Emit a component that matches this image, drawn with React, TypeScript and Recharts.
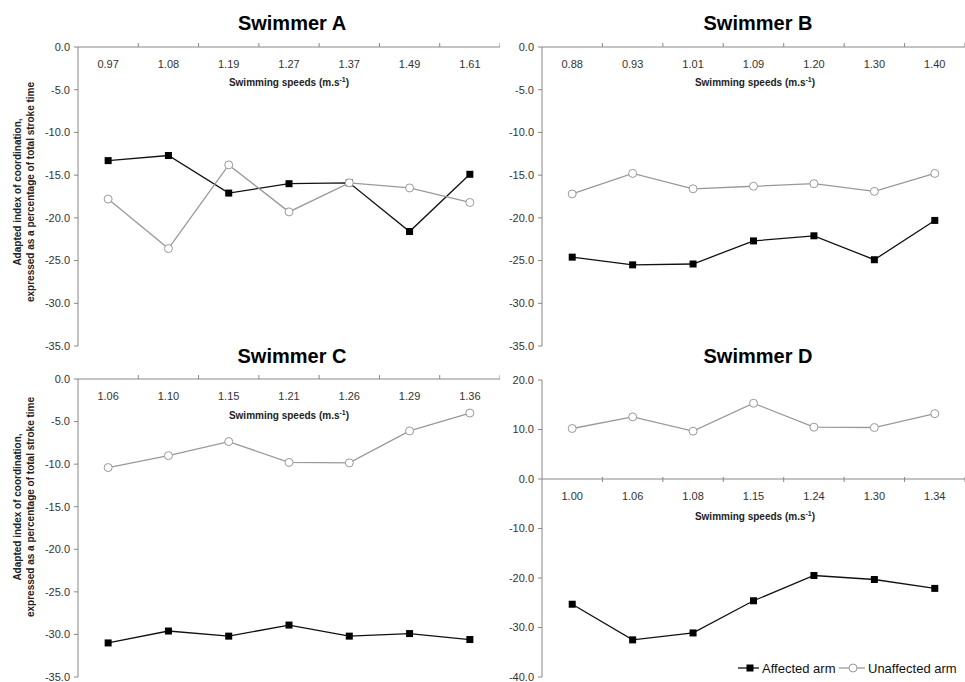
import React from 'react'
import { LineChart, Line, XAxis, YAxis, ReferenceLine } from 'recharts'

const FONT = '"Liberation Sans", Arial, sans-serif'

// swimming speeds (m.s-1) per swimmer
const speedsA = ['0.97', '1.08', '1.19', '1.27', '1.37', '1.49', '1.61']
const speedsB = ['0.88', '0.93', '1.01', '1.09', '1.20', '1.30', '1.40']
const speedsC = ['1.06', '1.10', '1.15', '1.21', '1.26', '1.29', '1.36']
const speedsD = ['1.00', '1.06', '1.08', '1.15', '1.24', '1.30', '1.34']

// adapted index of coordination (%)
const affectedA = [-13.3, -12.7, -17.1, -16.0, -15.9, -21.6, -14.9]
const unaffectedA = [-17.8, -23.6, -13.8, -19.3, -15.9, -16.5, -18.2]
const affectedB = [-24.6, -25.5, -25.4, -22.7, -22.1, -24.9, -20.3]
const unaffectedB = [-17.2, -14.8, -16.6, -16.3, -16.0, -16.9, -14.8]
const affectedC = [-31.0, -29.6, -30.2, -28.9, -30.2, -29.9, -30.6]
const unaffectedC = [-10.4, -9.0, -7.35, -9.8, -9.85, -6.1, -4.0]
const affectedD = [-25.3, -32.5, -31.1, -24.6, -19.5, -20.3, -22.1]
const unaffectedD = [10.2, 12.55, 9.66, 15.3, 10.47, 10.4, 13.2]

const ticksNeg = [-35, -30, -25, -20, -15, -10, -5, 0]
const ticksD = [-40, -30, -20, -10, 0, 10, 20]

const X_H = 20

type PanelProps = {
  speeds: string[]
  affected: number[]
  unaffected: number[]
  left: number
  top: number
  width: number
  height: number
  margin: { top: number; right: number; bottom: number; left: number }
  domain: [number, number]
  ticks: number[]
  zeroAxis?: boolean
}

function Panel({ speeds, affected, unaffected, left, top, width, height, margin, domain, ticks, zeroAxis }: PanelProps) {
  const rows = speeds.map((speed, i) => ({ speed, affected: affected[i], unaffected: unaffected[i] }))
  const plotW = width - margin.left - margin.right - 48
  const plotH = height - margin.top - margin.bottom - X_H
  const bw = plotW / speeds.length
  // distance from top of the plot down to the zero line (only used for swimmer D)
  const shift = zeroAxis ? (plotH * domain[1]) / (domain[1] - domain[0]) : 0

  const tick = (p: any) => (
    <g key={`t${p.index}`}>
      <text x={p.x} y={p.y + shift + 21} textAnchor="middle" fontSize={11} fill="#333" fontFamily={FONT}>
        {p.payload.value}
      </text>
      <line
        x1={p.x + bw / 2}
        x2={p.x + bw / 2}
        y1={zeroAxis ? p.y + shift - 2 : p.y}
        y2={zeroAxis ? p.y + shift + 3 : p.y - 4}
        stroke="#888"
      />
    </g>
  )

  const square = (p: any) =>
    p.cx == null ? <g key={`s${p.index}`} /> : (
      <rect key={`s${p.index}`} x={p.cx - 3.5} y={p.cy - 3.5} width={7} height={7} fill="#000" />
    )

  return (
    <div style={{ position: 'absolute', left, top }}>
      <LineChart width={width} height={height} data={rows} margin={margin}>
        <XAxis
          dataKey="speed"
          orientation="top"
          height={X_H}
          interval={0}
          padding={{ left: bw / 2, right: bw / 2 }}
          axisLine={zeroAxis ? false : { stroke: '#888' }}
          tickLine={false}
          tickSize={0}
          tickMargin={0}
          tick={tick}
        />
        <YAxis
          type="number"
          width={48}
          domain={domain}
          ticks={ticks}
          interval={0}
          tickFormatter={(v: number) => v.toFixed(1)}
          tickSize={4}
          tickMargin={4}
          axisLine={{ stroke: '#888' }}
          tickLine={{ stroke: '#888' }}
          tick={{ fontSize: 11, fill: '#333', fontFamily: FONT }}
        />
        {zeroAxis && <ReferenceLine y={0} stroke="#888" />}
        <Line
          type="linear"
          dataKey="affected"
          stroke="#111"
          strokeWidth={1.3}
          dot={square}
          activeDot={false}
          isAnimationActive={false}
        />
        <Line
          type="linear"
          dataKey="unaffected"
          stroke="#999"
          strokeWidth={1.3}
          dot={{ r: 4, fill: '#fff', stroke: '#999', strokeWidth: 1 }}
          activeDot={false}
          isAnimationActive={false}
        />
      </LineChart>
    </div>
  )
}

function SpeedTitle({ x, y }: { x: number; y: number }) {
  return (
    <text x={x} y={y} textAnchor="middle" fontSize={10} fontWeight="bold" fill="#222" fontFamily={FONT}>
      Swimming speeds (m.s<tspan dy={-4} fontSize={7}>-1</tspan>
      <tspan dy={4}>)</tspan>
    </text>
  )
}

function YTitle({ cy }: { cy: number }) {
  return (
    <g fontSize={10} fontWeight="bold" fill="#222" fontFamily={FONT} textAnchor="middle">
      <text transform={`translate(21,${cy}) rotate(-90)`}>Adapted index of coordination,</text>
      <text transform={`translate(34,${cy}) rotate(-90)`}>expressed as a percentage of total stroke time</text>
    </g>
  )
}

export default function App() {
  return (
    <div style={{ position: 'absolute', left: 0, top: 0, width: 965, height: 682, background: '#fff', overflow: 'hidden' }}>
      <Panel speeds={speedsA} affected={affectedA} unaffected={unaffectedA} left={0} top={0} width={500} height={362}
        margin={{ top: 47 - X_H, right: 0, bottom: 16, left: 30 }} domain={[-35, 0]} ticks={ticksNeg} />
      <Panel speeds={speedsB} affected={affectedB} unaffected={unaffectedB} left={490} top={0} width={475} height={362}
        margin={{ top: 47 - X_H, right: 0, bottom: 16, left: 4 }} domain={[-35, 0]} ticks={ticksNeg} />
      <Panel speeds={speedsC} affected={affectedC} unaffected={unaffectedC} left={0} top={330} width={500} height={352}
        margin={{ top: 49 - X_H, right: 0, bottom: 5, left: 30 }} domain={[-35, 0]} ticks={ticksNeg} />
      <Panel speeds={speedsD} affected={affectedD} unaffected={unaffectedD} left={490} top={330} width={475} height={352}
        margin={{ top: 50 - X_H, right: 0, bottom: 5, left: 4 }} domain={[-40, 20]} ticks={ticksD} zeroAxis />

      <svg width={965} height={682} style={{ position: 'absolute', left: 0, top: 0, pointerEvents: 'none' }}>
        <g fontSize={20} fontWeight="bold" fill="#000" fontFamily={FONT} textAnchor="middle">
          <text x={292} y={30}>Swimmer A</text>
          <text x={758} y={30}>Swimmer B</text>
          <text x={292} y={363}>Swimmer C</text>
          <text x={758} y={363}>Swimmer D</text>
        </g>
        <SpeedTitle x={289} y={86} />
        <SpeedTitle x={755} y={86} />
        <SpeedTitle x={289} y={419} />
        <SpeedTitle x={755} y={520} />
        <YTitle cy={192} />
        <YTitle cy={507} />

        <g fontFamily={FONT} fontSize={13} fill="#111">
          <line x1={738} x2={759} y1={668} y2={668} stroke="#111" strokeWidth={1.3} />
          <rect x={746.5} y={664.5} width={7} height={7} fill="#000" />
          <text x={762} y={672.5}>Affected arm</text>
          <line x1={839} x2={865} y1={668} y2={668} stroke="#999" strokeWidth={1.3} />
          <circle cx={853} cy={668} r={4} fill="#fff" stroke="#999" />
          <text x={868} y={672.5}>Unaffected arm</text>
        </g>
      </svg>
    </div>
  )
}
